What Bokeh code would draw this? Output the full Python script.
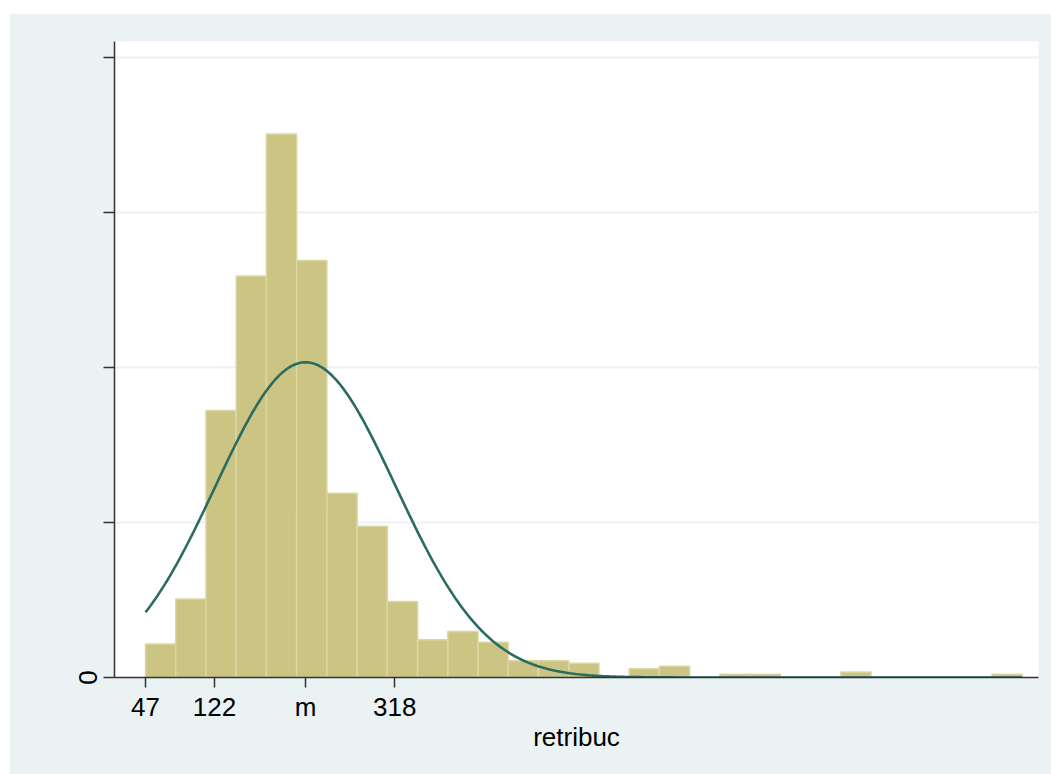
import numpy as np
from bokeh.plotting import figure
from bokeh.models import Range1d, FixedTicker
from bokeh.embed import file_html
from bokeh.resources import INLINE

# ---- data ----
bin_start = 47.0
bin_end = 1000.0
n_bins = 29
density = [0.000431, 0.001015, 0.003448, 0.005186, 0.00702, 0.005386, 0.00238,
           0.001954, 0.00098, 0.000487, 0.000594, 0.000456, 0.000216, 0.000216,
           0.000185, 0.0, 0.000112, 0.000146, 0.0, 0.0000426, 0.0000426, 0.0,
           0.0, 0.00007, 0.0, 0.0, 0.0, 0.0, 0.0000426]
mean_val = 221.0
sd_val = 98.0
x_ticks = [47, 122, 221, 318]
x_tick_labels = {221: "m"}
y_ticks = [0, 0.002, 0.004, 0.006, 0.008]
y_tick_labels = {0.002: "", 0.004: "", 0.006: "", 0.008: ""}

edges = np.linspace(bin_start, bin_end, n_bins + 1)
left = edges[:-1]
right = edges[1:]

xs = np.linspace(bin_start, bin_end, 400)
ys = np.exp(-0.5 * ((xs - mean_val) / sd_val) ** 2) / (sd_val * np.sqrt(2 * np.pi))

BG = "#EAF2F3"
FONT = "Liberation Sans"

p = figure(width=1042, height=761, output_backend="svg", toolbar_location=None,
           x_range=Range1d(13.3, 1017.7), y_range=Range1d(0, 0.008213),
           min_border_left=105, min_border_right=13, min_border_top=28,
           min_border_bottom=97, margin=(13, 0, 0, 9))
p.border_fill_color = BG
p.background_fill_color = "white"
p.outline_line_color = None

p.quad(left=left, right=right, top=density, bottom=0,
       fill_color="#CBC483", line_color="#DCD7A2", line_width=1.5)
p.line(xs, ys, line_color="#2A6B62", line_width=2.6)

p.xgrid.visible = False
p.ygrid.grid_line_color = BG
p.ygrid.grid_line_width = 2

for ax in (p.xaxis[0], p.yaxis[0]):
    ax.axis_line_color = "#333333"
    ax.axis_line_width = 1.5
    ax.major_tick_line_color = "#333333"
    ax.major_tick_line_width = 1.5
    ax.minor_tick_line_color = None
    ax.major_tick_in = 0
    ax.major_label_text_font = FONT
    ax.major_label_text_font_size = "26px"
    ax.major_label_text_color = "#000000"
    ax.axis_label_text_font = FONT
    ax.axis_label_text_font_size = "26px"
    ax.axis_label_text_font_style = "normal"
    ax.axis_label_text_color = "#000000"

p.xaxis.ticker = FixedTicker(ticks=x_ticks)
p.xaxis.major_label_overrides = x_tick_labels
p.xaxis.major_tick_out = 10
p.xaxis.major_label_standoff = 4
p.xaxis.axis_label = "retribuc"
p.xaxis.axis_label_standoff = -3

p.yaxis.ticker = FixedTicker(ticks=y_ticks)
p.yaxis.major_label_overrides = y_tick_labels
p.yaxis.major_tick_out = 11
p.yaxis.major_label_orientation = "vertical"
p.yaxis.major_label_standoff = 7

open("out.html", "w").write(file_html(p, INLINE))
